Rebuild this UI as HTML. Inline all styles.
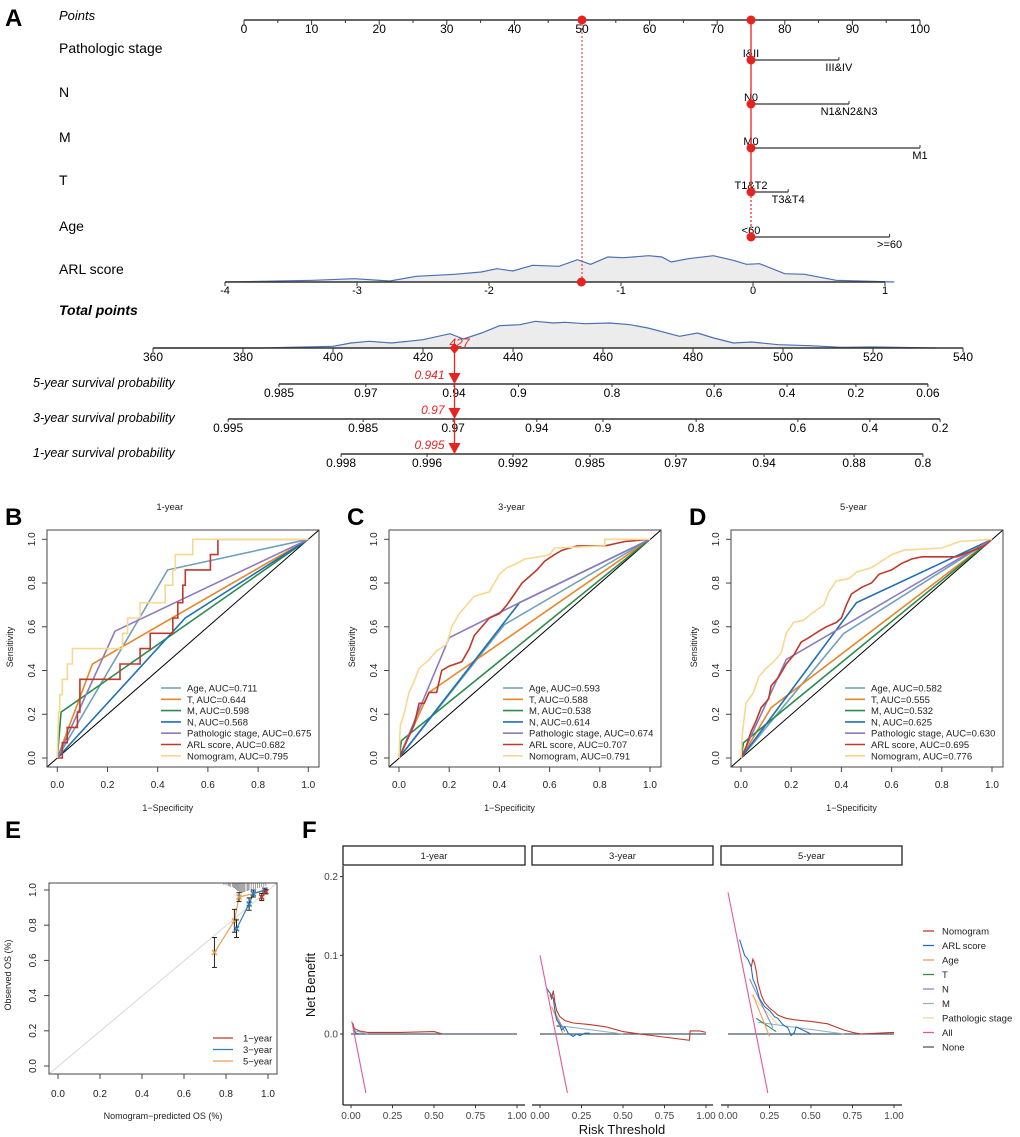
<!DOCTYPE html>
<html><head><meta charset="utf-8"><style>
html,body{margin:0;padding:0;background:#fff}
svg{display:block;font-family:"Liberation Sans",Arial,sans-serif}
</style></head><body>
<svg id="fig" width="1020" height="1137" viewBox="0 0 1020 1137" xmlns="http://www.w3.org/2000/svg"></svg>
<script>
// ===== Panel A data =====
const ptsTicks=[0,10,20,30,40,50,60,70,80,90,100];
const varNames=['Pathologic stage','N','M','T','Age'];
const varLevels=[['I&II','III&IV'],['N0','N1&N2&N3'],['M0','M1'],['T1&T2','T3&T4'],['<60','>=60']];
const varPoints=[[75,88],[75,89.5],[75,100],[75,80.5],[75,95.5]];
const arlTicks=[-4,-3,-2,-1,0,1];
const arlDensU=[-4,-3.33,-3.02,-2.75,-2.55,-2.26,-2.06,-1.94,-1.82,-1.67,-1.47,-1.33,-1.23,-1.1,-0.98,-0.79,-0.69,-0.62,-0.49,-0.3,-0.15,-0.05,0.05,0.24,0.39,0.63,1.07];
const arlDensV=[0,1.7,3.3,1,5.7,7.7,10,13.3,11,16.7,15.7,22.3,17.7,25,24.3,26.3,25,20,23.3,26.3,21.7,17.7,18.3,8.3,7.7,1.7,0];
const totTicks=[360,380,400,420,440,460,480,500,520,540];
const totDensP=[360,384,400,404,408,413,420,426,429,433,437,441.5,445,449,451.5,456,461.5,466,470,477,481,484.6,489,493,499,506,513,520,534];
const totDensV=[0,0,1.7,5,6.7,5,8.3,14.3,9,15,22.3,23.3,26.7,25,25.7,24.3,25,23.3,20,11.7,15,10,5,6,3.3,2.3,0.7,1,0];
const s5Labels=['0.985','0.97','0.94','0.9','0.8','0.6','0.4','0.2','0.06'];
const s5Tot=[388,407.3,426.9,441.2,462,484.7,500.9,516.2,532.2];
const s3Labels=['0.995','0.985','0.97','0.94','0.9','0.8','0.6','0.4','0.2'];
const s3Tot=[376.7,406.7,426.7,445.3,460,480.7,503.3,519.3,534.9];
const s1Labels=['0.998','0.996','0.992','0.985','0.97','0.94','0.88','0.8'];
const s1Tot=[401.8,420.9,440,457.1,476.2,495.8,515.8,531.1];
const selTotal=427;
const selArlPts=50;
const selVarPts=75;
const selSurv=['0.941','0.97','0.995'];

// ===== ROC data =====
const rocNames=['Age','T','M','N','Pathologic stage','ARL score','Nomogram'];
const rocColors=['#6f9fba','#e8862a','#2b8c4e','#1f6fb5','#8c7bbf','#c0392b','#f8d88e'];
const B_auc=['0.711','0.644','0.598','0.568','0.675','0.682','0.795'];
const C_auc=['0.593','0.588','0.538','0.614','0.674','0.707','0.791'];
const D_auc=['0.582','0.555','0.532','0.625','0.630','0.695','0.776'];
const B_age=[[0,0],[0.44,0.86],[1,1]];
const B_t=[[0,0],[0.14,0.43],[1,1]];
const B_m=[[0,0],[0.015,0.21],[1,1]];
const B_n=[[0,0],[0.51,0.64],[1,1]];
const B_path=[[0,0],[0.23,0.58],[1,1]];
const B_arl=[[0,0],[0.02,0],[0.02,0.07],[0.04,0.07],[0.04,0.14],[0.08,0.14],[0.08,0.21],[0.09,0.21],[0.09,0.36],[0.25,0.36],[0.25,0.43],[0.33,0.43],[0.33,0.5],[0.37,0.5],[0.37,0.57],[0.46,0.57],[0.46,0.64],[0.48,0.64],[0.48,0.71],[0.5,0.71],[0.5,0.79],[0.51,0.79],[0.51,0.86],[0.61,0.86],[0.61,0.93],[0.64,0.93],[0.64,1],[1,1]];
const B_nom=[[0,0],[0.005,0.21],[0.01,0.21],[0.01,0.29],[0.02,0.29],[0.02,0.36],[0.04,0.36],[0.04,0.43],[0.06,0.43],[0.06,0.5],[0.26,0.5],[0.26,0.57],[0.28,0.57],[0.28,0.64],[0.33,0.64],[0.33,0.71],[0.43,0.71],[0.43,0.79],[0.46,0.79],[0.46,0.86],[0.47,0.86],[0.47,0.93],[0.54,0.93],[0.54,1],[1,1]];
const C_age=[[0,0],[0.42,0.61],[1,1]];
const C_t=[[0,0],[0.12,0.3],[1,1]];
const C_m=[[0,0],[0.01,0.08],[1,1]];
const C_n=[[0,0],[0.48,0.71],[1,1]];
const C_path=[[0,0],[0.2,0.55],[0.48,0.71],[1,1]];
const C_arl=[[0,0],[0.02,0.05],[0.04,0.1],[0.06,0.15],[0.08,0.25],[0.1,0.25],[0.12,0.3],[0.15,0.3],[0.17,0.4],[0.2,0.42],[0.25,0.44],[0.28,0.5],[0.3,0.56],[0.33,0.6],[0.36,0.64],[0.4,0.66],[0.43,0.7],[0.46,0.75],[0.49,0.8],[0.52,0.83],[0.55,0.86],[0.58,0.9],[0.62,0.93],[0.65,0.95],[0.71,0.97],[0.82,0.97],[0.9,0.99],[1,1]];
const C_nom=[[0,0],[0.005,0.15],[0.02,0.2],[0.04,0.3],[0.06,0.35],[0.08,0.41],[0.12,0.45],[0.15,0.49],[0.19,0.52],[0.21,0.6],[0.24,0.66],[0.27,0.7],[0.3,0.74],[0.36,0.76],[0.38,0.8],[0.4,0.84],[0.43,0.87],[0.47,0.89],[0.5,0.91],[0.56,0.92],[0.6,0.93],[0.62,0.96],[0.82,0.97],[0.82,1],[1,1]];
const D_age=[[0,0],[0.41,0.57],[1,1]];
const D_t=[[0,0],[0.12,0.23],[1,1]];
const D_m=[[0,0],[0.01,0.07],[1,1]];
const D_n=[[0,0],[0.46,0.71],[1,1]];
const D_path=[[0,0],[0.18,0.45],[1,1]];
const D_arl=[[0,0],[0.02,0.05],[0.04,0.12],[0.06,0.17],[0.08,0.23],[0.11,0.27],[0.12,0.33],[0.15,0.37],[0.18,0.43],[0.21,0.47],[0.24,0.53],[0.27,0.55],[0.31,0.58],[0.34,0.6],[0.38,0.62],[0.4,0.64],[0.42,0.7],[0.44,0.75],[0.48,0.78],[0.52,0.8],[0.55,0.84],[0.6,0.86],[0.64,0.89],[0.68,0.91],[0.72,0.92],[0.86,0.92],[0.97,0.97],[1,1]];
const D_nom=[[0,0],[0.005,0.11],[0.02,0.25],[0.05,0.3],[0.07,0.37],[0.1,0.41],[0.13,0.44],[0.16,0.48],[0.18,0.57],[0.21,0.62],[0.25,0.63],[0.28,0.66],[0.33,0.7],[0.35,0.76],[0.38,0.81],[0.43,0.82],[0.46,0.85],[0.52,0.87],[0.56,0.9],[0.6,0.93],[0.65,0.95],[0.8,0.96],[0.87,0.99],[1,1]];
const unitTicks=[0,0.2,0.4,0.6,0.8,1.0];

// ===== Calibration data =====
const cal1Pred=[0.97,0.99], cal1Obs=[0.96,0.99], cal1Err=[0.02,0.012];
const cal3Pred=[0.85,0.91,0.93,0.985], cal3Obs=[0.78,0.92,0.98,1.0], cal3Err=[0.05,0.035,0.02,0.01];
const cal5Pred=[0.745,0.84,0.862,0.985], cal5Obs=[0.645,0.825,0.96,0.995], cal5Err=[0.085,0.065,0.025,0.012];
const rugVals=[0.79,0.8,0.81,0.815,0.82,0.83,0.835,0.84,0.845,0.85,0.855,0.86,0.865,0.87,0.875,0.88,0.885,0.89,0.9,0.905,0.91,0.92,0.93,0.94,0.95,0.96,0.97,0.98,0.99];
const rugLen=[2,2,3,3,4,4,5,5,6,7,8,8,9,9,10,10,9,9,8,8,7,7,6,6,5,5,4,4,3];

// ===== DCA data =====
const dcaNames=['Nomogram','ARL score','Age','T','N','M','Pathologic stage','All','None'];
const dcaColors=['#c0392b','#1f6fb5','#e8a060','#2e8b57','#8d86c9','#8fb1c9','#f5d79e','#e8559e','#4a5a6a'];
const dcaPanels=['1-year','3-year','5-year'];
const dcaYTicks=[0.0,0.1,0.2];
const dcaXTicks=['0.00','0.25','0.50','0.75','1.00'];
const p1_nom=[[0.01,0.014],[0.02,0.007],[0.05,0.004],[0.1,0.002],[0.3,0.002],[0.5,0.003],[0.55,0]];
const p1_arl=[[0.01,0.012],[0.02,0.004],[0.03,0.001],[0.05,0]];
const p1_m=[[0.01,0.005],[0.1,0]];
const p1_all=[[0.005,0.016],[0.09,-0.075]];
const p2_all=[[0,0.1],[0.165,-0.075]];
const p2_nom=[[0.06,0.05],[0.07,0.045],[0.08,0.055],[0.09,0.04],[0.1,0.03],[0.12,0.022],[0.15,0.017],[0.2,0.014],[0.3,0.012],[0.4,0.009],[0.45,0.006],[0.5,0.003],[0.6,0],[0.9,-0.008],[0.905,0.004],[0.96,0.004],[1,0.002]];
const p2_arl=[[0.04,0.058],[0.06,0.052],[0.08,0.045],[0.09,0.03],[0.1,0.018],[0.12,0.012],[0.13,0.005],[0.15,0.009],[0.17,0.001],[0.2,-0.003],[0.22,0],[0.24,-0.002],[0.27,0.001],[0.3,0.001]];
const p2_age=[[0.07,0.035],[0.14,0]];
const p2_t=[[0.1,0.01],[0.14,0.009]];
const p2_n=[[0.08,0.03],[0.15,0.003]];
const p2_m=[[0.1,0.011],[0.5,0]];
const p2_path=[[0.09,0.03],[0.13,0.01]];
const p3_all=[[0,0.18],[0.24,-0.075]];
const p3_nom=[[0.14,0.085],[0.15,0.095],[0.16,0.09],[0.17,0.08],[0.18,0.065],[0.2,0.05],[0.22,0.04],[0.25,0.033],[0.28,0.028],[0.3,0.024],[0.35,0.02],[0.4,0.018],[0.5,0.016],[0.6,0.013],[0.7,0.005],[0.75,0.002],[0.8,0],[1,0.002]];
const p3_arl=[[0.07,0.12],[0.1,0.1],[0.12,0.095],[0.14,0.085],[0.15,0.07],[0.17,0.06],[0.19,0.045],[0.22,0.035],[0.25,0.03],[0.28,0.022],[0.3,0.02],[0.33,0.012],[0.36,0.008],[0.38,-0.002],[0.4,0.002],[0.41,0.009],[0.5,0]];
const p3_age=[[0.15,0.05],[0.25,-0.003]];
const p3_t=[[0.17,0.02],[0.29,0.003]];
const p3_n=[[0.13,0.07],[0.27,0.008]];
const p3_m=[[0.18,0.015],[0.7,0]];
const p3_path=[[0.14,0.05],[0.3,0.012]];

// ===== helpers =====
const NS='http://www.w3.org/2000/svg';
const svg=document.getElementById('fig');
function mk(tag,attrs,parent){const e=document.createElementNS(NS,tag);for(const k in attrs)e.setAttribute(k,attrs[k]);(parent||svg).appendChild(e);return e;}
function tx(str,attrs,parent){const e=mk('text',attrs,parent);e.textContent=str;return e;}
function grp(){return mk('g',{});}

// ===== Panel A =====
const ptsX=p=>244+p*6.76;
const arlX=u=>753+u*132;
const totX=p=>153+(p-360)*4.5;
let el;
el=tx('A',{x:5,y:26,'font-size':24,'font-weight':'bold'});



const gPts=grp();


tx('Points',{x:59,y:20,'font-size':13,'font-style':'italic'},gPts);
mk('line',{x1:ptsX(0),y1:20,x2:ptsX(100),y2:20,stroke:'#333','stroke-width':1.5},gPts);
for(let p=0;p<=100;p+=5){mk('line',{x1:ptsX(p),y1:20,x2:ptsX(p),y2:p%10?23:25,stroke:'#333'},gPts);}
ptsTicks.forEach(p=>{tx(String(p),{x:ptsX(p),y:33,'font-size':12,'text-anchor':'middle'},gPts);});

const rowY=[60,104,148,192,237];
const rowLabelY=[53,97,142,185,231];
varNames.forEach((nmv,i)=>{
  const g=grp();
  
  
  tx(nmv,{x:59,y:rowLabelY[i],'font-size':14},g);
  const a=varPoints[i][0],b=varPoints[i][1],y=rowY[i];
  mk('line',{x1:ptsX(a),y1:y,x2:ptsX(b),y2:y,stroke:'#333','stroke-width':1.3},g);
  mk('line',{x1:ptsX(a),y1:y,x2:ptsX(a),y2:y-3,stroke:'#333'},g);
  mk('line',{x1:ptsX(b),y1:y,x2:ptsX(b),y2:y-3,stroke:'#333'},g);
  tx(varLevels[i][0],{x:ptsX(a),y:y-3,'font-size':11,'text-anchor':'middle'},g);
  tx(varLevels[i][1],{x:ptsX(b),y:y+11,'font-size':11,'text-anchor':'middle'},g);
});

// ARL score
const gArl=grp();


tx('ARL score',{x:59,y:274,'font-size':14},gArl);
let d='M'+arlX(arlDensU[0])+',282';
arlDensU.forEach((u,i)=>{d+=' L'+arlX(u).toFixed(1)+','+(282-arlDensV[i]).toFixed(1);});
el=mk('path',{d:d+' Z',fill:'#ececec',stroke:'none'},gArl);


el=mk('path',{d:d.replace(/^M[^L]*/,'M'+arlX(arlDensU[0])+',282 '),fill:'none',stroke:'#4a6fb5','stroke-width':1.2},gArl);


mk('line',{x1:arlX(-4),y1:282,x2:arlX(1),y2:282,stroke:'#333','stroke-width':1.5},gArl);
arlTicks.forEach(u=>{mk('line',{x1:arlX(u),y1:282,x2:arlX(u),y2:286,stroke:'#333'},gArl);tx(String(u),{x:arlX(u),y:294,'font-size':11,'text-anchor':'middle'},gArl);});

// Total points
const gTot=grp();


tx('Total points',{x:59,y:315,'font-size':14,'font-style':'italic','font-weight':'bold'},gTot);
let d2='M'+totX(totDensP[0])+',348';
totDensP.forEach((p,i)=>{d2+=' L'+totX(p).toFixed(1)+','+(348-totDensV[i]).toFixed(1);});
el=mk('path',{d:d2+' Z',fill:'#ececec',stroke:'none'},gTot);


el=mk('path',{d:d2,fill:'none',stroke:'#4a6fb5','stroke-width':1.2},gTot);


mk('line',{x1:totX(360),y1:348,x2:totX(540),y2:348,stroke:'#333','stroke-width':1.5},gTot);
totTicks.forEach(p=>{mk('line',{x1:totX(p),y1:348,x2:totX(p),y2:352,stroke:'#333'},gTot);tx(String(p),{x:totX(p),y:361,'font-size':12,'text-anchor':'middle'},gTot);});

// survival axes
const survRows=[['5-year survival probability',384,s5Labels,s5Tot],['3-year survival probability',419,s3Labels,s3Tot],['1-year survival probability',454,s1Labels,s1Tot]];
survRows.forEach((r,i)=>{
  const g=grp();
  
  
  tx(r[0],{x:33,y:r[1]+3,'font-size':12.5,'font-style':'italic'},g);
  const t=r[3];
  mk('line',{x1:totX(t[0]),y1:r[1],x2:totX(t[t.length-1]),y2:r[1],stroke:'#333','stroke-width':1.5},g);
  t.forEach((v,j)=>{mk('line',{x1:totX(v),y1:r[1],x2:totX(v),y2:r[1]+3,stroke:'#333'},g);tx(r[2][j],{x:totX(v),y:r[1]+13,'font-size':12,'text-anchor':'middle'},g);});
});

// red selection marks
const gSel=grp();


const red='#e8221f';
mk('line',{x1:ptsX(selVarPts),y1:20,x2:ptsX(selVarPts),y2:192,stroke:red,'stroke-width':1.3},gSel);
mk('line',{x1:ptsX(selVarPts),y1:192,x2:ptsX(selVarPts),y2:237,stroke:red,'stroke-width':1.2,'stroke-dasharray':'2,2'},gSel);
mk('line',{x1:ptsX(selArlPts),y1:20,x2:ptsX(selArlPts),y2:282,stroke:red,'stroke-width':1,'stroke-dasharray':'2,2'},gSel);
[20,...rowY].forEach(y=>{mk('circle',{cx:ptsX(selVarPts),cy:y,r:4.5,fill:red},gSel);});
mk('circle',{cx:ptsX(selArlPts),cy:20,r:4.5,fill:red},gSel);
mk('circle',{cx:arlX(-1.3),cy:282,r:4.5,fill:red},gSel);
const sx=totX(selTotal);
mk('line',{x1:sx,y1:348,x2:sx,y2:454,stroke:red,'stroke-width':1.3},gSel);
mk('path',{d:`M${sx-5},348 L${sx},343 L${sx+5},348 L${sx},354 Z`,fill:red},gSel);
tx(String(selTotal),{x:sx+5,y:347,'font-size':12,'font-style':'italic',fill:red,'text-anchor':'middle'},gSel);
[384,419,454].forEach((y,i)=>{
  mk('path',{d:`M${sx-6},${y-11} L${sx+6},${y-11} L${sx},${y} Z`,fill:red},gSel);
  tx(selSurv[i],{x:sx-10,y:y-5,'font-size':12,'font-style':'italic',fill:red,'text-anchor':'end'},gSel);
});

// ===== ROC panels =====
function rocPanel(letter,title,bx,xz,aucs,series){
  const g=grp();
  
  
  const by0=530,by1=767,xo=xz,xw=251,yo=758,yh=218.7;
  const X=v=>xo+v*xw, Y=v=>yo-v*yh;
  tx(letter,{x:bx-42,y:525,'font-size':24,'font-weight':'bold'},g);
  tx(title,{x:X(0.5)-13,y:510,'font-size':9.5,'text-anchor':'middle',fill:'#222'},g);
  mk('line',{x1:bx,y1:by1,x2:bx+272,y2:by0,stroke:'#000','stroke-width':1},g);
  series.forEach((pts,i)=>{
    const p=mk('polyline',{points:pts.map(q=>X(q[0]).toFixed(1)+','+Y(q[1]).toFixed(1)).join(' '),fill:'none',stroke:rocColors[i],'stroke-width':1.6},g);
    
    
  });
  mk('rect',{x:bx,y:by0,width:272,height:by1-by0,fill:'none',stroke:'#444','stroke-width':1},g);
  unitTicks.forEach(v=>{
    mk('line',{x1:X(v),y1:by1,x2:X(v),y2:by1+5,stroke:'#444'},g);
    tx(v.toFixed(1),{x:X(v),y:788,'font-size':10,'text-anchor':'middle',fill:'#222'},g);
    mk('line',{x1:bx,y1:Y(v),x2:bx-5,y2:Y(v),stroke:'#444'},g);
    tx(v.toFixed(1),{x:0,y:0,'font-size':10,'text-anchor':'middle',fill:'#222',transform:`translate(${bx-12},${Y(v)}) rotate(-90)`},g);
  });
  tx('1\u2212Specificity',{x:X(0.5)-15,y:811,'font-size':9,'text-anchor':'middle',fill:'#222'},g);
  tx('Sensitivity',{x:0,y:0,'font-size':9,'text-anchor':'middle',fill:'#222',transform:`translate(${bx-34},647) rotate(-90)`},g);
  const leg=grp();
  
  
  rocNames.forEach((n,i)=>{
    const y=688+11.3*i;
    mk('line',{x1:bx+114,y1:y,x2:bx+134,y2:y,stroke:rocColors[i],'stroke-width':1.6},leg);
    tx(n+', AUC='+aucs[i],{x:bx+140,y:y+3.5,'font-size':9.5,fill:'#222'},leg);
  });
}
rocPanel('B','1-year',47,57.3,B_auc,[B_age,B_t,B_m,B_n,B_path,B_arl,B_nom]);
rocPanel('C','3-year',389,399,C_auc,[C_age,C_t,C_m,C_n,C_path,C_arl,C_nom]);
rocPanel('D','5-year',731,741,D_auc,[D_age,D_t,D_m,D_n,D_path,D_arl,D_nom]);

// ===== Panel E =====
(function(){
  const g=grp();
  
  
  const X=v=>58+v*210, Y=v=>1066-v*176;
  tx('E',{x:5,y:838,'font-size':24,'font-weight':'bold'},g);
  mk('line',{x1:49,y1:1074,x2:277,y2:883,stroke:'#d8d8d8','stroke-width':1},g);
  rugVals.forEach((v,i)=>{mk('line',{x1:X(v),y1:883,x2:X(v),y2:883+rugLen[i],stroke:'#888','stroke-width':0.8},g);});
  const sets=[[cal5Pred,cal5Obs,cal5Err,'#e8a050','5-year'],[cal3Pred,cal3Obs,cal3Err,'#2f7fc0','3-year'],[cal1Pred,cal1Obs,cal1Err,'#c0392b','1-year']];
  sets.forEach(s=>{
    const p=mk('polyline',{points:s[0].map((v,i)=>X(v)+','+Y(s[1][i])).join(' '),fill:'none',stroke:s[3],'stroke-width':1.2},g);
    
    
    s[0].forEach((v,i)=>{
      const x=X(v),y1=Y(s[1][i]-s[2][i]),y2=Y(Math.min(1.04,s[1][i]+s[2][i]));
      mk('line',{x1:x,y1:y1,x2:x,y2:y2,stroke:'#222','stroke-width':1},g);
      mk('line',{x1:x-2.5,y1:y1,x2:x+2.5,y2:y1,stroke:'#222'},g);
      mk('line',{x1:x-2.5,y1:y2,x2:x+2.5,y2:y2,stroke:'#222'},g);
      const yy=Y(s[1][i]);
      mk('path',{d:`M${x-2.5},${yy-2.5} L${x+2.5},${yy+2.5} M${x-2.5},${yy+2.5} L${x+2.5},${yy-2.5}`,stroke:s[3],'stroke-width':1.5},g);
    });
  });
  mk('rect',{x:49,y:883,width:228,height:191,fill:'none',stroke:'#444'},g);
  unitTicks.forEach(v=>{
    mk('line',{x1:X(v),y1:1074,x2:X(v),y2:1079,stroke:'#444'},g);
    tx(v.toFixed(1),{x:X(v),y:1097,'font-size':10,'text-anchor':'middle',fill:'#222'},g);
    mk('line',{x1:49,y1:Y(v),x2:44,y2:Y(v),stroke:'#444'},g);
    tx(v.toFixed(1),{x:0,y:0,'font-size':10,'text-anchor':'middle',fill:'#222',transform:`translate(36,${Y(v)}) rotate(-90)`},g);
  });
  tx('Nomogram\u2212predicted OS (%)',{x:163,y:1119,'font-size':9,'text-anchor':'middle',fill:'#222'},g);
  tx('Observed OS (%)',{x:0,y:0,'font-size':9,'text-anchor':'middle',fill:'#222',transform:'translate(11,975) rotate(-90)'},g);
  const leg=grp();
  
  
  [['1\u2212year','#c0392b'],['3\u2212year','#2f7fc0'],['5\u2212year','#e8a050']].forEach((l,i)=>{
    const y=1038+11.5*i;
    mk('line',{x1:213,y1:y,x2:233,y2:y,stroke:l[1],'stroke-width':1.2},leg);
    tx(l[0],{x:243,y:y+3.5,'font-size':9.5,fill:'#222'},leg);
  });
})();

// ===== Panel F =====
(function(){
  const g=grp();
  
  
  tx('F',{x:302,y:838,'font-size':24,'font-weight':'bold'},g);
  const Y=v=>1034-v*787;
  const x0s=[351,540,728], strips=[[343,525],[532,713],[721,902]];
  const data=[
    [p1_nom,p1_arl,null,null,null,p1_m,null,p1_all],
    [p2_nom,p2_arl,p2_age,p2_t,p2_n,p2_m,p2_path,p2_all],
    [p3_nom,p3_arl,p3_age,p3_t,p3_n,p3_m,p3_path,p3_all]];
  const order=[5,6,3,4,2,1,0,7];
  dcaPanels.forEach((pn,k)=>{
    const X=v=>x0s[k]+v*166;
    const sg=grp();
    
    
    const st=mk('rect',{x:strips[k][0],y:846,width:strips[k][1]-strips[k][0],height:19,fill:'#fff',stroke:'#222','stroke-width':1.3},sg);
    
    
    tx(pn,{x:(strips[k][0]+strips[k][1])/2,y:859,'font-size':9.5,'text-anchor':'middle',fill:'#222'},sg);
    const none=mk('line',{x1:X(0),y1:Y(0),x2:X(1),y2:Y(0),stroke:dcaColors[8],'stroke-width':1.2},sg);
    
    
    order.forEach(si=>{
      const s=data[k][si]; if(!s) return;
      const p=mk('polyline',{points:s.map(q=>X(q[0]).toFixed(1)+','+Y(q[1]).toFixed(1)).join(' '),fill:'none',stroke:dcaColors[si],'stroke-width':1.1},sg);
      
      
    });
    mk('line',{x1:strips[k][0],y1:1105,x2:strips[k][1],y2:1105,stroke:'#222','stroke-width':1.3},sg);
    dcaXTicks.forEach(t=>{
      const v=parseFloat(t);
      mk('line',{x1:X(v),y1:1105,x2:X(v),y2:1108,stroke:'#333'},sg);
      tx(t,{x:X(v),y:1119,'font-size':10,'text-anchor':'middle',fill:'#444'},sg);
    });
  });
  mk('line',{x1:343,y1:866,x2:343,y2:1105,stroke:'#222','stroke-width':1.3},g);
  dcaYTicks.forEach(v=>{
    mk('line',{x1:340,y1:Y(v),x2:343,y2:Y(v),stroke:'#333'},g);
    tx(v.toFixed(1),{x:338,y:Y(v)+3.5,'font-size':10,'text-anchor':'end',fill:'#444'},g);
  });
  tx('Risk Threshold',{x:622,y:1134,'font-size':13,'text-anchor':'middle',fill:'#111'},g);
  tx('Net Benefit',{x:0,y:0,'font-size':13,'text-anchor':'middle',fill:'#111',transform:'translate(315,985) rotate(-90)'},g);
  const leg=grp();
  
  
  dcaNames.forEach((n,i)=>{
    const y=931+14.5*i;
    mk('line',{x1:923,y1:y,x2:934,y2:y,stroke:dcaColors[i],'stroke-width':1.3},leg);
    tx(n,{x:942,y:y+3.5,'font-size':9.5,fill:'#222'},leg);
  });
})();
</script>
</body></html>
